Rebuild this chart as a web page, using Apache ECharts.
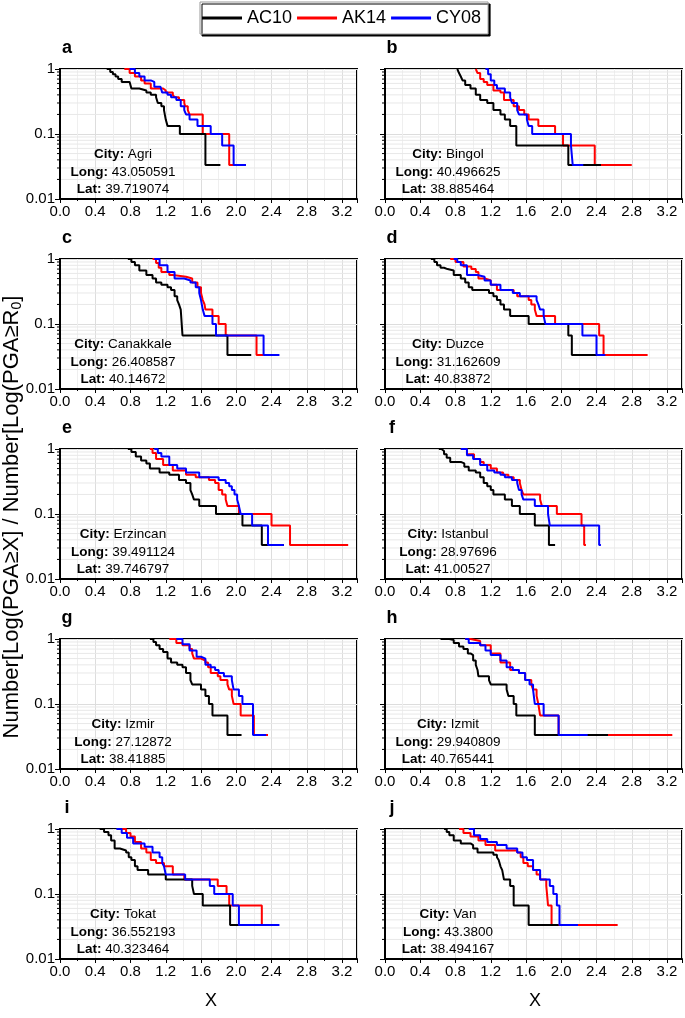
<!DOCTYPE html>
<html><head><meta charset="utf-8">
<script src="https://cdn.jsdelivr.net/npm/echarts@6/dist/echarts.min.js"></script>
<style>html,body{margin:0;padding:0;background:#fff}#c{width:685px;height:1018px}</style>
</head><body><div id="c"></div>
<script>
// ---- DATA (x = PGA-based X value, n = number of events out of 30 with value >= X) ----
const EVENTS = 30;
const models = ['AC10', 'AK14', 'CY08'];
const panelLetters = ['a','b','c','d','e','f','g','h','i','j'];
const cities = ['Agri','Bingol','Canakkale','Duzce','Erzincan','Istanbul','Izmir','Izmit','Tokat','Van'];
const longs = ['43.050591','40.496625','26.408587','31.162609','39.491124','28.97696','27.12872','29.940809','36.552193','43.3800'];
const lats = ['39.719074','38.885464','40.14672','40.83872','39.746797','41.00527','38.41885','40.765441','40.323464','38.494167'];
const xTickLabels = ['0.0','0.4','0.8','1.2','1.6','2.0','2.4','2.8','3.2'];
const yTickLabels = ['0.01','0.1','1'];

const a_AC10 = [[0.53,30],[0.57,27],[0.60,25],[0.63,23],[0.66,21],[0.70,19],[0.79,18],[0.81,15],[0.90,14],[0.98,13],[1.03,12],[1.09,11],[1.11,9],[1.15,8],[1.18,7],[1.20,5],[1.22,4],[1.36,3],[1.65,1],[1.82,1]];
const a_AK14 = [[0.73,30],[0.79,26],[0.85,23],[0.92,20],[0.96,18],[1.03,15],[1.17,14],[1.20,13],[1.28,12],[1.30,11],[1.35,10],[1.41,9],[1.42,8],[1.45,7],[1.47,6],[1.62,3],[1.92,1],[2.11,1]];
const a_CY08 = [[0.79,30],[0.85,26],[0.90,23],[0.96,20],[1.03,19],[1.07,16],[1.14,15],[1.16,13],[1.22,12],[1.26,11],[1.32,10],[1.37,8],[1.41,7],[1.43,6],[1.47,5],[1.56,4],[1.71,3],[1.84,2],[1.97,1],[2.11,1]];

const b_AC10 = [[0.82,30],[0.84,26],[0.86,23],[0.88,20],[0.91,17],[0.97,15],[1.03,12],[1.08,10],[1.16,9],[1.23,7],[1.31,6],[1.36,5],[1.42,4],[1.49,2],[2.08,1],[2.45,1]];
const b_AK14 = [[1.03,30],[1.05,26],[1.08,21],[1.12,19],[1.16,17],[1.23,14],[1.31,13],[1.35,10],[1.46,8],[1.52,7],[1.58,6],[1.63,5],[1.74,4],[1.93,3],[2.02,2],[2.38,1],[2.80,1]];
const b_CY08 = [[1.14,30],[1.17,25],[1.20,20],[1.24,17],[1.27,15],[1.36,13],[1.42,11],[1.44,9],[1.50,7],[1.52,6],[1.61,5],[1.63,4],[1.67,3],[2.11,2],[2.13,1],[2.25,1]];

const c_AC10 = [[0.77,30],[0.81,27],[0.85,24],[0.90,20],[0.98,17],[1.05,15],[1.09,13],[1.15,12],[1.22,11],[1.26,10],[1.30,8],[1.33,7],[1.35,6],[1.37,5],[1.39,2],[1.90,1],[2.17,1]];
const c_AK14 = [[1.05,30],[1.09,26],[1.12,22],[1.15,19],[1.24,17],[1.28,16],[1.43,15],[1.50,13],[1.56,11],[1.60,9],[1.62,7],[1.64,6],[1.65,5],[1.73,4],[1.80,3],[1.88,2],[2.23,1],[2.31,1]];
const c_CY08 = [[1.07,30],[1.13,24],[1.22,19],[1.30,15],[1.41,14],[1.48,13],[1.54,11],[1.58,9],[1.60,7],[1.62,5],[1.64,4],[1.73,3],[1.77,2],[2.31,1],[2.49,1]];

const d_AC10 = [[0.52,30],[0.56,27],[0.59,24],[0.63,22],[0.67,21],[0.71,20],[0.78,17],[0.86,15],[0.91,13],[0.95,11],[0.99,10],[1.18,9],[1.23,8],[1.27,7],[1.31,6],[1.35,5],[1.42,4],[1.63,3],[2.08,2],[2.12,1],[2.45,1]];
const d_AK14 = [[0.74,30],[0.80,27],[0.89,23],[0.98,21],[1.03,19],[1.06,15],[1.14,14],[1.20,12],[1.27,10],[1.46,9],[1.50,8],[1.63,7],[1.66,6],[1.70,5],[1.72,4],[1.93,3],[2.43,2],[2.48,1],[2.98,1]];
const d_CY08 = [[0.78,30],[0.82,27],[0.86,24],[0.93,17],[1.05,16],[1.13,14],[1.20,12],[1.31,10],[1.45,9],[1.53,8],[1.72,7],[1.74,6],[1.76,5],[1.80,4],[1.82,3],[2.24,2],[2.40,1],[2.50,1]];

const e_AC10 = [[0.77,30],[0.81,27],[0.86,23],[0.92,20],[0.98,18],[1.02,15],[1.13,13],[1.24,12],[1.35,10],[1.43,9],[1.48,7],[1.50,6],[1.52,5],[1.58,4],[1.77,3],[2.07,2],[2.29,1],[2.54,1]];
const e_AK14 = [[1.02,30],[1.05,26],[1.09,21],[1.17,17],[1.28,14],[1.43,12],[1.54,11],[1.69,10],[1.76,9],[1.80,7],[1.84,6],[1.88,5],[1.90,4],[2.03,3],[2.40,2],[2.61,1],[3.27,1]];
const e_CY08 = [[1.07,30],[1.11,26],[1.15,23],[1.24,17],[1.33,15],[1.43,13],[1.58,11],[1.80,10],[1.88,9],[1.92,8],[1.95,7],[1.98,6],[2.01,5],[2.03,4],[2.05,3],[2.18,2],[2.36,1],[2.54,1]];

const f_AC10 = [[0.61,30],[0.64,28],[0.67,25],[0.70,22],[0.74,19],[0.86,18],[0.90,16],[0.95,14],[1.03,13],[1.08,11],[1.12,9],[1.16,8],[1.20,7],[1.23,6],[1.36,5],[1.44,4],[1.53,3],[1.70,2],[1.86,1],[1.93,1]];
const f_AK14 = [[0.86,30],[0.93,25],[1.01,21],[1.08,19],[1.12,17],[1.20,15],[1.27,13],[1.34,12],[1.40,11],[1.46,10],[1.53,9],[1.55,7],[1.57,6],[1.76,5],[1.78,4],[1.95,3],[2.23,2],[2.26,1],[2.28,1]];
const f_CY08 = [[0.86,30],[0.93,24],[1.00,21],[1.08,17],[1.16,14],[1.24,13],[1.31,12],[1.36,11],[1.44,10],[1.50,9],[1.52,7],[1.55,6],[1.57,5],[1.70,4],[1.85,3],[1.87,2],[2.43,1],[2.45,1]];

const g_AC10 = [[1.02,30],[1.06,27],[1.09,24],[1.13,21],[1.17,19],[1.22,15],[1.26,13],[1.33,12],[1.39,11],[1.43,9],[1.48,7],[1.50,6],[1.60,5],[1.65,4],[1.69,3],[1.73,2],[1.90,1],[2.06,1]];
const g_AK14 = [[1.24,30],[1.32,26],[1.39,24],[1.47,21],[1.50,18],[1.52,15],[1.60,14],[1.65,13],[1.68,11],[1.71,9],[1.79,8],[1.82,7],[1.90,6],[1.92,5],[1.95,4],[1.97,3],[2.05,2],[2.20,1],[2.36,1]];
const g_CY08 = [[1.32,30],[1.39,25],[1.47,20],[1.55,16],[1.60,15],[1.65,12],[1.71,11],[1.76,10],[1.80,9],[1.86,8],[1.95,7],[1.97,5],[2.03,4],[2.07,3],[2.19,1],[2.34,1]];

const h_AC10 = [[0.63,30],[0.73,29],[0.78,26],[0.84,23],[0.89,21],[0.94,18],[0.97,17],[1.00,14],[1.03,12],[1.05,10],[1.06,8],[1.18,7],[1.20,6],[1.38,5],[1.40,4],[1.46,3],[1.49,2],[1.70,1],[2.53,1]];
const h_AK14 = [[0.91,30],[0.97,28],[1.08,24],[1.20,18],[1.31,13],[1.42,10],[1.52,9],[1.59,7],[1.66,6],[1.68,5],[1.72,4],[1.74,3],[1.76,2],[1.97,1],[3.26,1]];
const h_CY08 = [[0.91,30],[0.95,26],[1.08,24],[1.14,20],[1.20,17],[1.31,14],[1.38,11],[1.45,10],[1.52,9],[1.59,7],[1.64,6],[1.68,5],[1.70,3],[1.80,2],[1.97,1],[2.30,1]];

const i_AC10 = [[0.45,30],[0.50,27],[0.55,24],[0.58,20],[0.62,15],[0.68,14],[0.75,13],[0.78,11],[0.81,10],[0.85,8],[0.88,7],[1.00,6],[1.20,5],[1.50,4],[1.52,3],[1.62,2],[1.93,1],[2.03,1]];
const i_AK14 = [[0.70,30],[0.75,26],[0.80,23],[0.85,19],[0.92,15],[0.98,13],[1.03,10],[1.09,9],[1.18,8],[1.28,6],[1.41,5],[1.79,4],[1.89,3],[1.92,2],[2.29,1],[2.40,1]];
const i_CY08 = [[0.64,30],[0.70,26],[0.76,22],[0.83,18],[0.96,16],[1.05,13],[1.13,11],[1.16,9],[1.18,8],[1.20,6],[1.42,5],[1.70,4],[1.75,3],[1.96,2],[2.03,1],[2.49,1]];

const j_AC10 = [[0.67,30],[0.70,27],[0.73,24],[0.78,20],[0.86,18],[0.97,17],[1.00,15],[1.05,13],[1.23,12],[1.27,11],[1.29,10],[1.31,8],[1.33,7],[1.35,5],[1.42,4],[1.46,2],[1.63,1],[1.97,1]];
const j_AK14 = [[0.84,30],[0.89,26],[0.97,23],[1.06,20],[1.14,17],[1.25,14],[1.50,13],[1.54,11],[1.57,9],[1.62,8],[1.68,7],[1.72,6],[1.76,5],[1.83,4],[1.85,2],[1.89,1],[2.64,1]];
const j_CY08 = [[0.95,30],[1.01,24],[1.08,21],[1.16,19],[1.27,17],[1.38,15],[1.50,13],[1.56,11],[1.61,10],[1.68,7],[1.76,5],[1.87,4],[1.91,3],[1.95,2],[1.98,1],[2.19,1]];

const minorLogValues = [0.02,0.03,0.04,0.05,0.06,0.07,0.08,0.09,0.2,0.3,0.4,0.5,0.6,0.7,0.8,0.9];

const curves = [
  [a_AC10,a_AK14,a_CY08],[b_AC10,b_AK14,b_CY08],[c_AC10,c_AK14,c_CY08],[d_AC10,d_AK14,d_CY08],
  [e_AC10,e_AK14,e_CY08],[f_AC10,f_AK14,f_CY08],[g_AC10,g_AK14,g_CY08],[h_AC10,h_AK14,h_CY08],
  [i_AC10,i_AK14,i_CY08],[j_AC10,j_AK14,j_CY08]
];

// ---- LAYOUT / STYLE ----
const colors = {AC10:'#000000', AK14:'#ff0000', CY08:'#0000ff'};
const drawOrder = [1, 0, 2]; // red below black, blue on top
const FONT = 'Liberation Sans, Arial, sans-serif';
const colLeft = [60, 385];
const rowTop = [69, 259, 449, 639, 829];
const GW = 297, GH = 130;
const XMAX = 3.37;

const grids = [], xAxes = [], yAxes = [], series = [], titles = [], graphics = [];
for (let p = 0; p < 10; p++) {
  const col = p % 2, row = Math.floor(p / 2);
  const L = colLeft[col], T = rowTop[row];
  grids.push({left: L, top: T, width: GW, height: GH, show: true, borderColor: '#000', borderWidth: 2, backgroundColor: '#fff'});
  xAxes.push({
    type: 'value', gridIndex: p, min: 0, max: XMAX, interval: 0.4,
    axisLine: {show: true, onZero: false, lineStyle: {color: '#000', width: 2}},
    axisTick: {show: true, inside: false, length: 4, lineStyle: {color: '#000', width: 1}},
    minorTick: {show: true, splitNumber: 2, length: 2, lineStyle: {color: '#000'}},
    axisLabel: {show: true, margin: 5, color: '#000', fontSize: 15, fontFamily: FONT,
      formatter: v => { const k = Math.round(v / 0.4); return Math.abs(v - k * 0.4) < 1e-6 && k < xTickLabels.length ? xTickLabels[k] : ''; }},
    splitLine: {show: true, lineStyle: {color: '#dddddd', width: 1}},
    minorSplitLine: {show: true, lineStyle: {color: '#efefef', width: 1}}
  });
  yAxes.push({
    type: 'log', gridIndex: p, min: 0.01, max: 1, logBase: 10,
    axisLine: {show: true, onZero: false, lineStyle: {color: '#000', width: 2}},
    axisTick: {show: true, inside: false, length: 5, lineStyle: {color: '#000', width: 1}},
    axisLabel: {show: col === 0, margin: 5, color: '#000', fontSize: 15, fontFamily: FONT,
      formatter: v => v >= 0.99 ? yTickLabels[2] : (v >= 0.099 ? yTickLabels[1] : yTickLabels[0])},
    splitLine: {show: true, lineStyle: {color: '#dddddd', width: 1}}
  });
  // minor log gridlines and ticks
  series.push({
    type: 'custom', xAxisIndex: p, yAxisIndex: p, silent: true, z: 1,
    data: minorLogValues.map(v => [0, v]),
    renderItem: (params, api) => {
      const v = api.value(1);
      const a = api.coord([0, v]), b = api.coord([XMAX, v]);
      return {type: 'group', children: [
        {type: 'line', shape: {x1: a[0] + 1, y1: a[1], x2: b[0] - 1, y2: b[1]}, style: {stroke: '#e8e8e8', lineWidth: 1}},
        {type: 'line', shape: {x1: a[0] - 3, y1: a[1], x2: a[0] - 1, y2: a[1]}, style: {stroke: '#000', lineWidth: 1}}
      ]};
    }
  });
  for (const m of drawOrder) {
    const name = models[m];
    series.push({
      name, type: 'line', step: 'end', xAxisIndex: p, yAxisIndex: p, z: 3,
      showSymbol: false, symbol: 'none', animation: false,
      lineStyle: {color: colors[name], width: 2}, itemStyle: {color: colors[name]},
      data: curves[p][m].map(([x, n]) => [x, n / EVENTS])
    });
  }
  titles.push({
    text: '{b|City:} ' + cities[p] + '\n{b|Long:} ' + longs[p] + '\n{b|Lat:} ' + lats[p],
    left: L + 58, top: T + 72, textAlign: 'center',
    textStyle: {fontSize: 13.5, fontWeight: 'normal', color: '#000', fontFamily: FONT, lineHeight: 17.5,
      rich: {b: {fontWeight: 'bold', fontSize: 13.5, fontFamily: FONT, lineHeight: 17.5, color: '#000'}}}
  });
  graphics.push({type: 'text', x: L + 7, y: T - 21,
    style: {text: panelLetters[p], font: 'bold 18px ' + FONT, fill: '#000', textAlign: 'center', textVerticalAlign: 'middle'}});
}
graphics.push({type: 'text', x: 12, y: 517, rotation: Math.PI / 2,
  style: {text: 'Number[Log(PGA≥X] / Number[Log(PGA≥R{s|0}]', font: '22px ' + FONT, fill: '#000',
    textAlign: 'center', textVerticalAlign: 'middle', rich: {s: {fontSize: 14, verticalAlign: 'bottom', padding: [10,0,0,0], fontFamily: FONT}}}});
graphics.push({type: 'text', x: 211, y: 1001, style: {text: 'X', font: '18px ' + FONT, fill: '#000', textAlign: 'center', textVerticalAlign: 'middle'}});
graphics.push({type: 'text', x: 535, y: 1001, style: {text: 'X', font: '18px ' + FONT, fill: '#000', textAlign: 'center', textVerticalAlign: 'middle'}});

const chart = echarts.init(document.getElementById('c'), null, {renderer: 'canvas'});
chart.setOption({
  animation: false,
  backgroundColor: '#fff',
  title: titles,
  legend: {
    data: models, left: 200, top: 2, orient: 'horizontal',
    icon: 'rect', itemWidth: 40, itemHeight: 3, itemGap: 5,
    padding: [7, 7, 7, 2], borderColor: '#999', borderWidth: 1, backgroundColor: '#fff',
    shadowColor: '#000', shadowOffsetX: 2, shadowOffsetY: 2, shadowBlur: 0,
    textStyle: {fontSize: 18, color: '#000', fontFamily: FONT}
  },
  grid: grids, xAxis: xAxes, yAxis: yAxes, series, graphic: graphics
});
</script></body></html>
